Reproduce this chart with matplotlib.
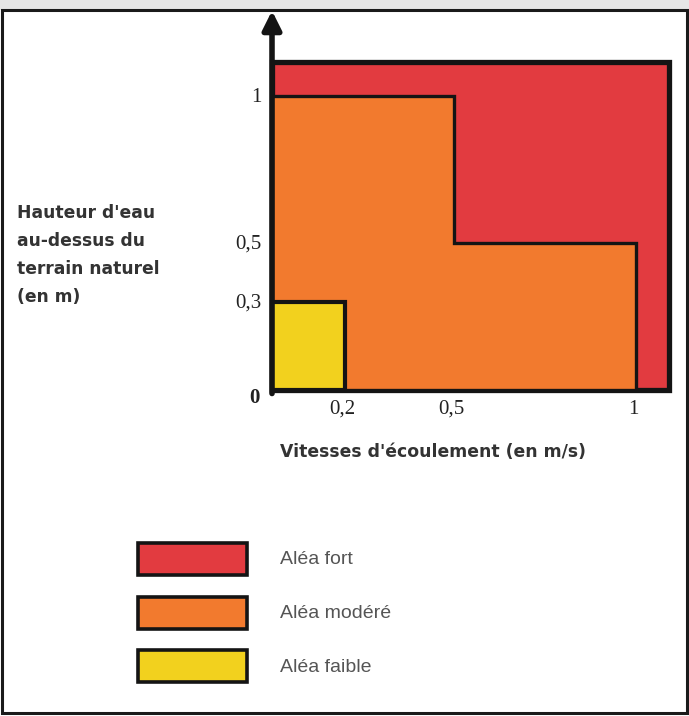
import matplotlib
matplotlib.use("Agg")
import matplotlib.pyplot as plt
from matplotlib.patches import Rectangle, Polygon

# ---- data ----
velocity_thresholds = [0.2, 0.5, 1.0]      # m/s
height_thresholds = [0.3, 0.5, 1.0]        # m
x_tick_labels = ["0,2", "0,5", "1"]
y_tick_labels = ["0,3", "0,5", "1"]
outer_extent = [1.09, 1.115]               # extent of the "fort" zone drawn
zone_names = ["Aléa fort", "Aléa modéré", "Aléa faible"]
zone_colors = ["#E23B40", "#F27A2E", "#F2D11E"]

W, H = 689, 716
fig = plt.figure(figsize=(W / 100, H / 100), dpi=100)
fig.patch.set_facecolor("white")

# pixel geometry of the diagram
x0_px, y0_px = 272, 390
sx, sy = 364.0, 294.0
ax = fig.add_axes([0, 0, 1, 1])
ax.set_xlim(-x0_px / sx, (W - x0_px) / sx)
ax.set_ylim(-(H - y0_px) / sy, y0_px / sy)
ax.axis("off")

# gray scanned band + frame
fig.patches.append(Rectangle((0, 1 - 10 / H), 1, 10 / H, transform=fig.transFigure,
                             facecolor="#e6e6e6", edgecolor="none", zorder=0))
fig.patches.append(Rectangle((2 / W, 3 / H), (W - 4) / W, (H - 13) / H, transform=fig.transFigure,
                             facecolor="none", edgecolor="#1a1a1a", lw=2.2, zorder=5))

v1, v2, v3 = velocity_thresholds
h1, h2, h3 = height_thresholds

# fort zone
ax.add_patch(Rectangle((0, 0), outer_extent[0], outer_extent[1], facecolor=zone_colors[0],
                       edgecolor="#141414", lw=3.8, zorder=1))
# modéré zone (stepped polygon)
ax.add_patch(Polygon([(0, 0), (0, h3), (v2, h3), (v2, h2), (v3, h2), (v3, 0)], closed=True,
                     facecolor=zone_colors[1], edgecolor="#141414", lw=2.4, zorder=2))
# faible zone
ax.add_patch(Rectangle((0, 0), v1, h1, facecolor=zone_colors[2],
                       edgecolor="#141414", lw=3.0, zorder=3))

# axes with arrows
ax.annotate("", xy=(0, 1.29), xytext=(0, -0.012),
            arrowprops=dict(arrowstyle="-|>", lw=4, color="#141414", mutation_scale=28,
                            shrinkA=0, shrinkB=0), zorder=4)
ax.annotate("", xy=(1.17, -0.012), xytext=(-0.012, -0.012),
            arrowprops=dict(arrowstyle="-|>", lw=4, color="#141414", mutation_scale=28,
                            shrinkA=0, shrinkB=0), zorder=4)

serif = "Liberation Serif"
for v, lab in zip(velocity_thresholds, x_tick_labels):
    ax.text(v - 0.006, -0.066, lab, ha="center", va="center", fontsize=15,
            family=serif, color="#222222")
for h, lab in zip(height_thresholds, y_tick_labels):
    ax.text(-0.028, h - 0.004, lab, ha="right", va="center", fontsize=15,
            family=serif, color="#222222")
ax.text(-0.047, -0.027, "0", ha="center", va="center", fontsize=15, family=serif,
        color="#222222", fontweight="bold")

# axis titles
ylab_lines = ["Hauteur d'eau", "au-dessus du", "terrain naturel", "(en m)"]
for i, line in enumerate(ylab_lines):
    fig.text(17 / W, 1 - (213 + i * 28) / H, line, ha="left", va="center",
             fontsize=12.3, fontweight="bold", family="DejaVu Sans", color="#333333")
fig.text(280 / W, 1 - 452 / H, "Vitesses d'écoulement (en m/s)", ha="left", va="center",
         fontsize=12.4, fontweight="bold", family="DejaVu Sans", color="#333333")

# legend
box_tops = [543, 597, 650]
for name, col, top in zip(zone_names, zone_colors, box_tops):
    fig.patches.append(Rectangle((138 / W, 1 - (top + 32) / H), 109 / W, 32 / H,
                                 transform=fig.transFigure, facecolor=col,
                                 edgecolor="#141414", lw=2.6, zorder=5))
    fig.text(280 / W, 1 - (top + 17) / H, name, ha="left", va="center", fontsize=14,
             family="Liberation Sans", color="#555555")

fig.savefig("out.png", dpi=100)
